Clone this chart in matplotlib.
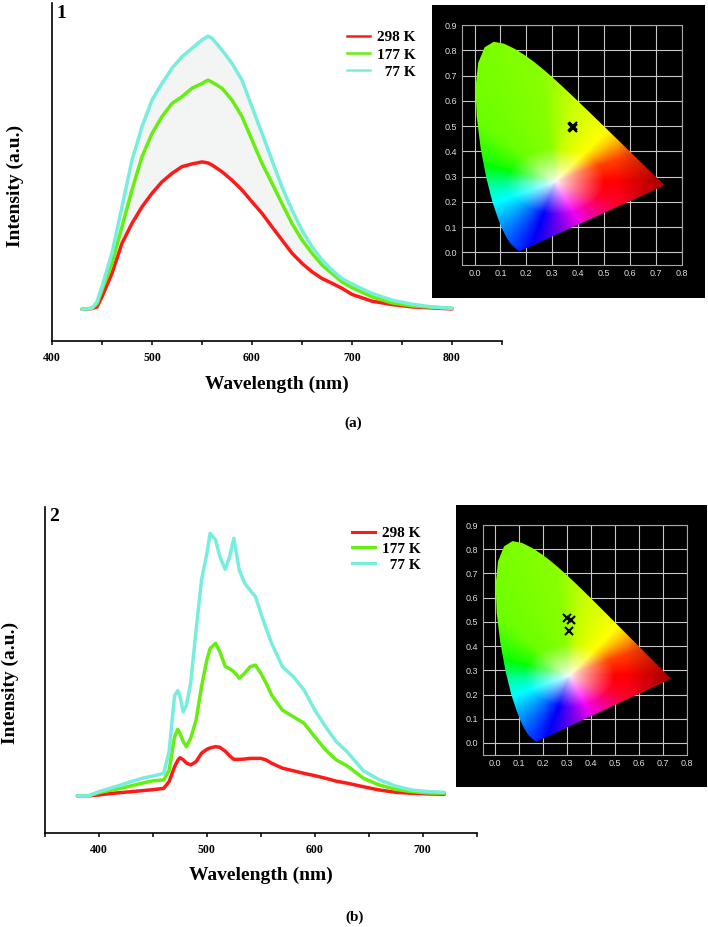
import numpy as np
import matplotlib
matplotlib.use('Agg')
import matplotlib.pyplot as plt
from matplotlib.colors import hsv_to_rgb
from matplotlib.lines import Line2D
from matplotlib.patches import Polygon
from matplotlib.ticker import MultipleLocator

# ---- spectra, panel 1 ----
wl1 = [430, 440, 445, 450, 460, 470, 480, 490, 500, 510, 520, 530, 540, 550, 556,
       560, 570, 580, 590, 600, 610, 620, 630, 640, 650, 660, 670, 680, 690, 700,
       720, 740, 760, 780, 800]
k77_1 = [0.094, 0.097, 0.116, 0.161, 0.26, 0.397, 0.535, 0.634, 0.713, 0.762, 0.807,
         0.841, 0.866, 0.891, 0.902, 0.896, 0.861, 0.822, 0.772, 0.693, 0.615, 0.535,
         0.456, 0.388, 0.328, 0.279, 0.24, 0.21, 0.185, 0.169, 0.141, 0.121, 0.109,
         0.101, 0.097]
k177_1 = [0.094, 0.097, 0.11, 0.151, 0.23, 0.338, 0.447, 0.545, 0.614, 0.664, 0.703,
          0.723, 0.748, 0.762, 0.772, 0.766, 0.748, 0.713, 0.664, 0.595, 0.526, 0.467,
          0.407, 0.348, 0.299, 0.26, 0.225, 0.2, 0.175, 0.158, 0.131, 0.113, 0.104,
          0.1, 0.097]
k298_1 = [0.094, 0.096, 0.101, 0.131, 0.2, 0.289, 0.348, 0.397, 0.437, 0.471, 0.496,
          0.516, 0.524, 0.53, 0.527, 0.521, 0.501, 0.476, 0.447, 0.412, 0.378, 0.338,
          0.299, 0.26, 0.23, 0.205, 0.185, 0.171, 0.156, 0.138, 0.118, 0.108, 0.101,
          0.098, 0.095]

# ---- spectra, panel 2 ----
wl2 = [380, 390, 400, 410, 420, 430, 440, 450, 460, 465, 470, 473, 475, 478, 481, 485,
       490, 495, 500, 503, 508, 512, 517, 521, 525, 530, 535, 540, 545, 550, 555, 560,
       570, 580, 590, 600, 610, 620, 630, 645, 660, 675, 690, 705, 720]
k77_2 = [0.113, 0.113, 0.126, 0.136, 0.146, 0.157, 0.167, 0.174, 0.182, 0.25, 0.42,
         0.436, 0.42, 0.371, 0.39, 0.46, 0.622, 0.775, 0.857, 0.918, 0.898, 0.847, 0.808,
         0.847, 0.903, 0.806, 0.765, 0.744, 0.724, 0.673, 0.625, 0.581, 0.509, 0.479,
         0.438, 0.376, 0.325, 0.279, 0.248, 0.19, 0.162, 0.143, 0.131, 0.126, 0.124]
k177_2 = [0.113, 0.113, 0.123, 0.13, 0.136, 0.144, 0.152, 0.159, 0.162, 0.192, 0.294,
          0.317, 0.305, 0.28, 0.264, 0.29, 0.346, 0.448, 0.53, 0.565, 0.581, 0.555, 0.51,
          0.503, 0.494, 0.474, 0.489, 0.509, 0.514, 0.489, 0.458, 0.422, 0.376, 0.356,
          0.336, 0.294, 0.254, 0.223, 0.205, 0.167, 0.146, 0.133, 0.126, 0.122, 0.121]
k298_2 = [0.113, 0.113, 0.116, 0.12, 0.123, 0.126, 0.129, 0.132, 0.136, 0.157, 0.202,
          0.222, 0.23, 0.224, 0.214, 0.208, 0.218, 0.244, 0.256, 0.26, 0.264, 0.262, 0.25,
          0.236, 0.225, 0.225, 0.226, 0.228, 0.228, 0.228, 0.223, 0.213, 0.198, 0.19,
          0.182, 0.175, 0.167, 0.158, 0.152, 0.141, 0.131, 0.124, 0.121, 0.119, 0.118]

temps = ['298 K', '177 K', '  77 K']
colors = ['#ff1a1a', '#66ee11', '#77eedd']

# ---- CIE coordinates of the emission ----
cie1_x = [0.376, 0.381, 0.379]
cie1_y = [0.497, 0.494, 0.499]
cie2_x = [0.302, 0.317, 0.310]
cie2_y = [0.518, 0.507, 0.463]

# CIE 1931 spectral locus (380-700 nm)
locus_x = [0.1741, 0.1740, 0.1738, 0.1736, 0.1733, 0.1730, 0.1726, 0.1721, 0.1714, 0.1703,
           0.1689, 0.1669, 0.1644, 0.1611, 0.1566, 0.1510, 0.1440, 0.1355, 0.1241, 0.1096,
           0.0913, 0.0687, 0.0454, 0.0235, 0.0082, 0.0039, 0.0139, 0.0389, 0.0743, 0.1142,
           0.1547, 0.1929, 0.2296, 0.2658, 0.3016, 0.3373, 0.3731, 0.4087, 0.4441, 0.4788,
           0.5125, 0.5448, 0.5752, 0.6029, 0.6270, 0.6482, 0.6658, 0.6801, 0.6915, 0.7006,
           0.7079, 0.7140, 0.7190, 0.7230, 0.7260, 0.7300, 0.7334, 0.7347]
locus_y = [0.0050, 0.0050, 0.0049, 0.0049, 0.0048, 0.0048, 0.0048, 0.0048, 0.0051, 0.0058,
           0.0069, 0.0086, 0.0109, 0.0138, 0.0177, 0.0227, 0.0297, 0.0399, 0.0578, 0.0868,
           0.1327, 0.2007, 0.2950, 0.4127, 0.5384, 0.6548, 0.7502, 0.8120, 0.8338, 0.8262,
           0.8059, 0.7816, 0.7543, 0.7243, 0.6923, 0.6589, 0.6245, 0.5896, 0.5547, 0.5202,
           0.4866, 0.4544, 0.4242, 0.3965, 0.3725, 0.3514, 0.3340, 0.3197, 0.3083, 0.2993,
           0.2920, 0.2859, 0.2809, 0.2770, 0.2740, 0.2700, 0.2666, 0.2653]

serif = 'Liberation Serif'

fig = plt.figure(figsize=(7.08, 9.27), dpi=100)


def chromaticity_image():
    # hue by direction from the white point, the way the software draws it
    gx, gy = np.meshgrid(np.linspace(0, 0.75, 500), np.linspace(0.0, 0.85, 500))
    dx, dy = gx - 0.31, gy - 0.28
    ang = np.degrees(np.arctan2(dy, dx)) % 360
    ang_pts = [0, 20, 35, 45, 79, 98, 141, 164, 185, 200, 240, 303, 320, 340, 360]
    hue_pts = [0, 15, 45, 60, 73, 88, 95, 115, 160, 180, 228, 305, 325, 350, 360]
    h = np.interp(ang, ang_pts, hue_pts) / 360.0
    d = np.hypot(dx * 0.9, dy * 1.3)
    s = np.clip(d / 0.17, 0, 1) ** 0.8
    v = 1 - 0.35 * np.clip((gx - 0.55) / 0.17, 0, 1)
    v = v * (1 - 0.2 * np.clip((0.2 - gy) / 0.2, 0, 1) * np.clip((gx - 0.2) / 0.15, 0, 1))
    return hsv_to_rgb(np.stack([h, s, v], axis=-1))


cie_img = chromaticity_image()


def spectrum_panel(rect, wl, series, xlim, label, leg_anchor, leg_spacing, leg_lw, shade):
    ax = fig.add_axes(rect)
    if shade:
        ax.fill_between(wl, series[0], series[2], color='#f3f5f5', lw=0, zorder=1)
    for s, c in zip(series, colors):
        ax.plot(wl, s, color=c, lw=2.5, solid_capstyle='round', zorder=2)
    ax.set_xlim(*xlim)
    ax.set_ylim(0, 1)
    ax.set_yticks([])
    ax.xaxis.set_major_locator(MultipleLocator(100))
    ax.xaxis.set_minor_locator(MultipleLocator(50))
    ax.tick_params(axis='x', which='both', direction='out', length=3, width=1.1, pad=5)
    for t in ax.get_xticklabels():
        t.set_fontfamily(serif)
        t.set_fontweight('bold')
        t.set_fontsize(8.5)
    for side in ['top', 'right']:
        ax.spines[side].set_visible(False)
    for side in ['left', 'bottom']:
        ax.spines[side].set_linewidth(1.2)
    ax.set_xlabel('Wavelength (nm)', fontfamily=serif, fontweight='bold', fontsize=14, va='center')
    ax.set_ylabel('Intensity (a.u.)', fontfamily=serif, fontweight='bold', fontsize=14, va='center')
    ax.text(0.021, 0.97, label, transform=ax.transAxes, ha='center', va='center',
            fontfamily=serif, fontweight='bold', fontsize=14)
    handles = [Line2D([], [], color=c, lw=leg_lw) for c in colors]
    ax.legend(handles, temps, loc='upper left', bbox_to_anchor=leg_anchor, frameon=False,
              borderpad=0, borderaxespad=0, handlelength=1.55, handletextpad=0.45,
              labelspacing=leg_spacing, prop={'family': serif, 'weight': 'bold', 'size': 11})
    return ax


def cie_panel(bg_rect, rect, px, py):
    bg = fig.add_axes(bg_rect)
    bg.set_facecolor('black')
    bg.set_xticks([])
    bg.set_yticks([])
    for sp in bg.spines.values():
        sp.set_visible(False)

    ax = fig.add_axes(rect)
    ax.set_facecolor('black')
    ax.set_xlim(-0.05, 0.8)
    ax.set_ylim(-0.05, 0.9)
    ax.set_xticks(np.arange(0, 0.81, 0.1))
    ax.set_yticks(np.arange(0, 0.91, 0.1))
    ax.set_xticklabels([f'{v:.1f}' for v in np.arange(0, 0.81, 0.1)])
    ax.set_yticklabels([f'{v:.1f}' for v in np.arange(0, 0.91, 0.1)])
    ax.tick_params(length=0, pad=3, labelsize=6.5, labelcolor='#dddddd')
    for t in ax.get_xticklabels() + ax.get_yticklabels():
        t.set_fontfamily('Liberation Sans')
    ax.grid(True, color='#c8c8c8', lw=0.8)
    ax.set_axisbelow(True)
    for sp in ax.spines.values():
        sp.set_color('#a8a8a8')
        sp.set_linewidth(0.8)

    im = ax.imshow(cie_img, origin='lower', extent=(0, 0.75, 0.0, 0.85),
                   interpolation='bilinear', aspect='auto', zorder=1)
    poly = Polygon(np.column_stack([locus_x, locus_y]), closed=True,
                   transform=ax.transData, facecolor='none', edgecolor='none')
    ax.add_patch(poly)
    im.set_clip_path(poly)
    ax.plot(px, py, ls='none', marker='x', color='black', ms=6, mew=1.5, zorder=3)
    return ax


# panel (a)
ax1 = spectrum_panel([0.0734, 0.6321, 0.6356, 0.3646], wl1, [k298_1, k177_1, k77_1],
                     (400, 850), '1', (0.655, 0.918), 0.22, 1.8, True)
ax1.xaxis.set_label_coords(0.5, -0.127)
ax1.yaxis.set_label_coords(-0.082, 0.46)
cie_panel([0.6097, 0.6785, 0.386, 0.316], [0.652, 0.7141, 0.3107, 0.2589], cie1_x, cie1_y)

# panel (b)
ax2 = spectrum_panel([0.0636, 0.1017, 0.6097, 0.3517], wl2, [k298_2, k177_2, k77_2],
                     (350, 750), '2', (0.71, 0.94), 0.14, 2.2, False)
ax2.xaxis.set_label_coords(0.5, -0.13)
ax2.yaxis.set_label_coords(-0.081, 0.46)
cie_panel([0.644, 0.1507, 0.354, 0.3045], [0.6818, 0.1855, 0.2881, 0.2481], cie2_x, cie2_y)

fig.text(353 / 708, 1 - 423 / 927, '(a)', ha='center', va='center',
         fontfamily=serif, fontweight='bold', fontsize=11)
fig.text(355 / 708, 1 - 917 / 927, '(b)', ha='center', va='center',
         fontfamily=serif, fontweight='bold', fontsize=11)

fig.savefig('out.png', dpi=100)
